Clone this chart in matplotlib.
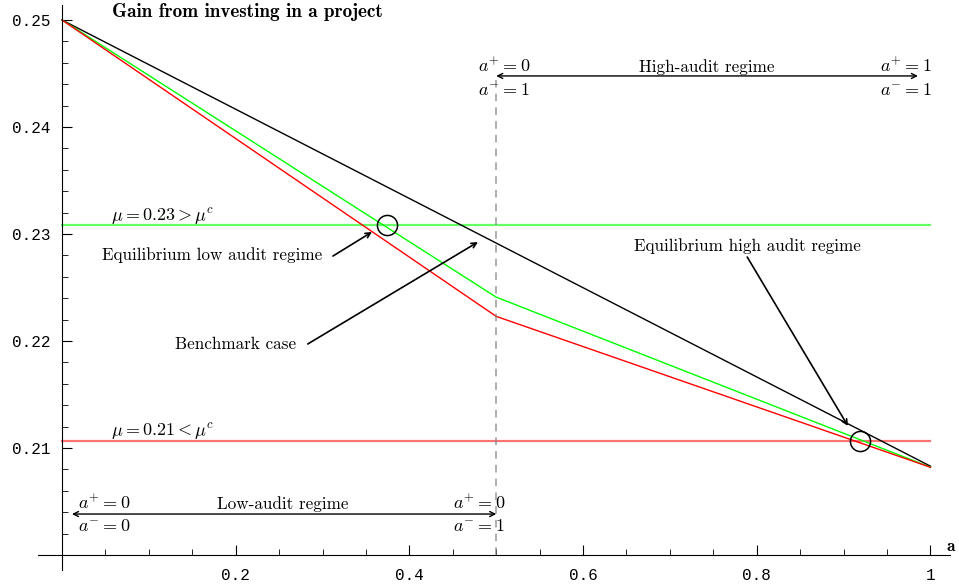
import numpy as np
import matplotlib
matplotlib.use("Agg")
import matplotlib.pyplot as plt
from matplotlib.ticker import MultipleLocator

plt.rcParams['mathtext.fontset'] = 'cm'

# audit probability grid and gains
a_vals = [0.0, 0.5, 1.0]
benchmark_gain = [0.25, 0.22915, 0.2083]
green_gain = [0.25, 0.2241, 0.2082]
red_gain = [0.25, 0.2223, 0.2082]

mu_high = 0.2308
mu_low = 0.2107

# equilibrium points (circles)
eq_a = [0.374, 0.919]
eq_gain = [0.2308, 0.2107]

y_major = [0.21, 0.22, 0.23, 0.24, 0.25]
x_major = [0.2, 0.4, 0.6, 0.8, 1.0]

serif = 'cmr10'

fig = plt.figure(figsize=(9.59, 5.88), dpi=100)
ax = fig.add_axes([38 / 959, 1 - 570 / 588, 912 / 959, 565 / 588])
ax.set_xlim(-0.0276, 1.0225)
ax.set_ylim(0.1986, 0.2514)

for side in ['top', 'right']:
    ax.spines[side].set_visible(False)
ax.spines['left'].set_position(('data', 0))
ax.spines['bottom'].set_position(('data', 0.2))

ax.set_xticks(x_major)
ax.set_xticklabels(['0.2', '0.4', '0.6', '0.8', '1'])
ax.set_yticks(y_major)
ax.set_yticklabels(['0.21', '0.22', '0.23', '0.24', '0.25'])
ax.xaxis.set_minor_locator(MultipleLocator(0.05))
ax.yaxis.set_minor_locator(MultipleLocator(0.002))
ax.tick_params(which='major', direction='in', length=7, width=0.8)
ax.tick_params(which='minor', direction='in', length=4, width=0.6)
ax.tick_params(axis='y', which='major', pad=8)
ax.tick_params(axis='x', which='major', pad=9)
for lab in ax.get_xticklabels() + ax.get_yticklabels():
    lab.set_family('Liberation Mono')
    lab.set_fontsize(11.5)

# horizontal mu levels
ax.plot([0, 1], [mu_high, mu_high], color='#00ff00', lw=1.6, alpha=0.6)
ax.plot([0, 1], [mu_low, mu_low], color='red', lw=1.6, alpha=0.55)

# gain curves
ax.plot(a_vals, benchmark_gain, color='black', lw=1.0)
ax.plot(a_vals, green_gain, color='#00ff00', lw=1.0)
ax.plot(a_vals, red_gain, color='red', lw=1.0)

# regime boundary
ax.plot([0.5, 0.5], [0.2, 0.2448], color='gray', lw=1.1, ls=(0, (5, 4)), alpha=0.8)

# equilibrium circles
ax.plot(eq_a, eq_gain, 'o', mfc='none', mec='black', ms=14.5, mew=1.1)

tsize = 12.3
msize = 13
arrow_kw = dict(arrowstyle='->', color='black', lw=1.2, shrinkA=0, shrinkB=0,
                mutation_scale=9)

ax.text(0.0576, 0.25075, 'Gain from investing in a project', family='cmb10',
        fontsize=13.8, va='center', ha='left')

ax.text(0.0564, 0.23159, r'$\mu = 0.23 > \mu^c$', fontsize=msize, va='center')
ax.text(0.0564, 0.2115, r'$\mu = 0.21 < \mu^c$', fontsize=msize, va='center')

ax.text(0.1727, 0.22804, 'Equilibrium low audit regime', family=serif,
        fontsize=tsize, ha='center', va='center')
ax.annotate('', xy=(0.357, 0.23019), xytext=(0.312, 0.22794), arrowprops=arrow_kw)

ax.text(0.2003, 0.21972, 'Benchmark case', family=serif,
        fontsize=tsize, ha='center', va='center')
ax.annotate('', xy=(0.479, 0.22925), xytext=(0.283, 0.21972), arrowprops=arrow_kw)

ax.text(0.789, 0.22888, 'Equilibrium high audit regime', family=serif,
        fontsize=tsize, ha='center', va='center')
ax.annotate('', xy=(0.905, 0.21206), xytext=(0.789, 0.22785), arrowprops=arrow_kw)

# high-audit regime arrow
ax.annotate('', xy=(0.5, 0.24477), xytext=(0.9856, 0.24477),
            arrowprops=dict(arrowstyle='<->', color='black', lw=1.0,
                            shrinkA=0, shrinkB=0, mutation_scale=9))
ax.text(0.479, 0.24561, r'$a^{+} = 0$', fontsize=msize, ha='left', va='center')
ax.text(0.479, 0.24346, r'$a^{-} = 1$', fontsize=msize, ha='left', va='center')
ax.text(0.7427, 0.24561, 'High-audit regime', family=serif, fontsize=tsize,
        ha='center', va='center')
ax.text(1.0017, 0.24561, r'$a^{+} = 1$', fontsize=msize, ha='right', va='center')
ax.text(1.0017, 0.24346, r'$a^{-} = 1$', fontsize=msize, ha='right', va='center')

# low-audit regime arrow
ax.annotate('', xy=(0.0115, 0.20383), xytext=(0.5, 0.20383),
            arrowprops=dict(arrowstyle='<->', color='black', lw=1.0,
                            shrinkA=0, shrinkB=0, mutation_scale=9))
ax.text(0.0184, 0.20477, r'$a^{+} = 0$', fontsize=msize, ha='left', va='center')
ax.text(0.0184, 0.20271, r'$a^{-} = 0$', fontsize=msize, ha='left', va='center')
ax.text(0.2545, 0.20477, 'Low-audit regime', family=serif, fontsize=tsize,
        ha='center', va='center')
ax.text(0.450, 0.20477, r'$a^{+} = 0$', fontsize=msize, ha='left', va='center')
ax.text(0.450, 0.20271, r'$a^{-} = 1$', fontsize=msize, ha='left', va='center')

ax.text(1.0236, 0.20075, 'a', family='cmb10', fontsize=12.5, ha='center',
        va='center', clip_on=False)

fig.savefig('out.png', dpi=100)
